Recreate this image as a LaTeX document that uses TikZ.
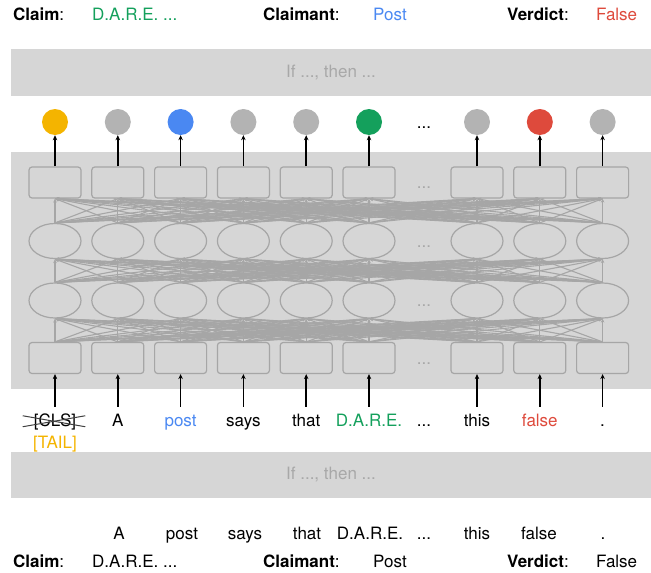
\documentclass[tikz,border=0pt]{standalone}
\usepackage{fontspec}
\setmainfont{TeX Gyre Heros}
\usepackage{tikz}
\usetikzlibrary{
	shapes.geometric,
	arrows.meta,
	positioning,
	calc
}
\definecolor{bandgray}{HTML}{D6D6D6}
\definecolor{unitgray}{HTML}{A6A6A6}
\definecolor{labelgray}{HTML}{A8A8A8}
\definecolor{predgray}{HTML}{B3B3B3}
\definecolor{tailyellow}{HTML}{F4B400}
\definecolor{postblue}{HTML}{4A88F2}
\definecolor{claimgreen}{HTML}{14A05C}
\definecolor{verdictred}{HTML}{DE4A3C}

\begin{document}
\begin{tikzpicture}[
				x=1pt, y=-1pt,
				font=\fontsize{17}{20}\selectfont,
				band/.style={
					rectangle, fill=bandgray, text=labelgray,
					minimum width=640pt, minimum height=47pt, inner sep=0pt
				},
				unit/.style={
					rectangle, draw=unitgray, rounded corners=3pt, line width=1.2pt,
					minimum width=52pt, minimum height=31pt, inner sep=0pt
				},
				hidden/.style={
					ellipse, draw=unitgray, line width=1.2pt,
					minimum width=52pt, minimum height=35pt, inner sep=0pt
				},
				pred/.style={circle, minimum size=26pt, inner sep=0pt},
				token/.style={anchor=base, text height=12pt, text depth=3.5pt, inner sep=3pt},
				field/.style={anchor=base west, inner sep=0pt},
				arrow/.style={-{Stealth[length=5pt,width=4.5pt]}, line width=1.5pt},
				link/.style={-{Stealth[length=4pt,width=3.5pt]}, draw=unitgray, line width=1.1pt},
				]
				\useasboundingbox (0,0) rectangle (651,573);
				
				%bands
				\node[band] (head) at (331,72.5) {If ..., then ...};
				\node[band, minimum height=237pt] (encoder) at (331,270.5) {};
				\node[band, minimum height=46pt] (tail) at (331,475) {If ..., then ...};
				
				%layers
				\foreach \x/\c [count=\i] in {55/tailyellow, 117.8/predgray, 180.6/postblue, 243.4/predgray, 306.2/predgray, 369/claimgreen, 477/predgray, 539.8/verdictred, 602.6/predgray}{
					\node[unit] (emb\i) at (\x,358) {};
					\node[hidden] (hidA\i) at (\x,300.5) {};
					\node[hidden] (hidB\i) at (\x,241) {};
					\node[unit] (out\i) at (\x,182.5) {};
					\node[pred, fill=\c] (pred\i) at (\x,122) {};
					\draw[arrow] (out\i) -- (pred\i);
				}
				\foreach \i in {1,...,9}{
					\foreach \j in {1,...,9}{
						\draw[link] (emb\i.north) -- (hidA\j.south);
						\draw[link] (hidA\i.north) -- (hidB\j.south);
						\draw[link] (hidB\i.north) -- (out\j.south);
					}
				}
				\foreach \y [count=\k] in {188.5, 247.5, 306.5, 364.5}
					\node[token, text=labelgray] (gap\k) at (424,\y) {...};
				\node[token] (predgap) at (424,128.5) {...};
				
				%input
				\foreach \x/\t/\c [count=\i] in {55/{[CLS]}/black, 117.8/A/black, 180.6/post/postblue, 243.4/says/black, 306.2/that/black, 369/D.A.R.E./claimgreen, 477/this/black, 539.8/false/verdictred, 602.6/./black}{
					\node[token, text=\c] (tok\i) at (\x,426) {\t};
					\draw[arrow, shorten <=4pt] (tok\i) -- (emb\i);
				}
				\node[token] (tokgap) at (424,426) {...};
				\node[token, text=tailyellow] (tailtok) at (55,448) {[TAIL]};
				\draw[line width=1pt, black!75] ($(tok1.west)+(-8,-6)$) -- ($(tok1.east)+(6,5)$);
				\draw[line width=1pt, black!75] ($(tok1.west)+(-8,5)$) -- ($(tok1.east)+(6,-6)$);
				
				%output
				\foreach \x/\t [count=\i] in {119/A, 182/post, 245/says, 307/that, 370/D.A.R.E., 424/{...}, 477/this, 539/false, 603/.}
					\node[token] (plain\i) at (\x,539) {\t};
				
				%fields
				\foreach \y/\g/\b/\r [count=\k] in {20.5/claimgreen/postblue/verdictred, 567/black/black/black}{
					\node[field] (claimkey\k) at (13,\y) {\textbf{Claim}:};
					\node[field, text=\g] (claimval\k) at (92,\y) {D.A.R.E. ...};
					\node[field] (claimantkey\k) at (263,\y) {\textbf{Claimant}:};
					\node[field, text=\b] (claimantval\k) at (373,\y) {Post};
					\node[field] (verdictkey\k) at (507,\y) {\textbf{Verdict}:};
					\node[field, text=\r] (verdictval\k) at (596,\y) {False};
				}
			\end{tikzpicture}
\end{document}
